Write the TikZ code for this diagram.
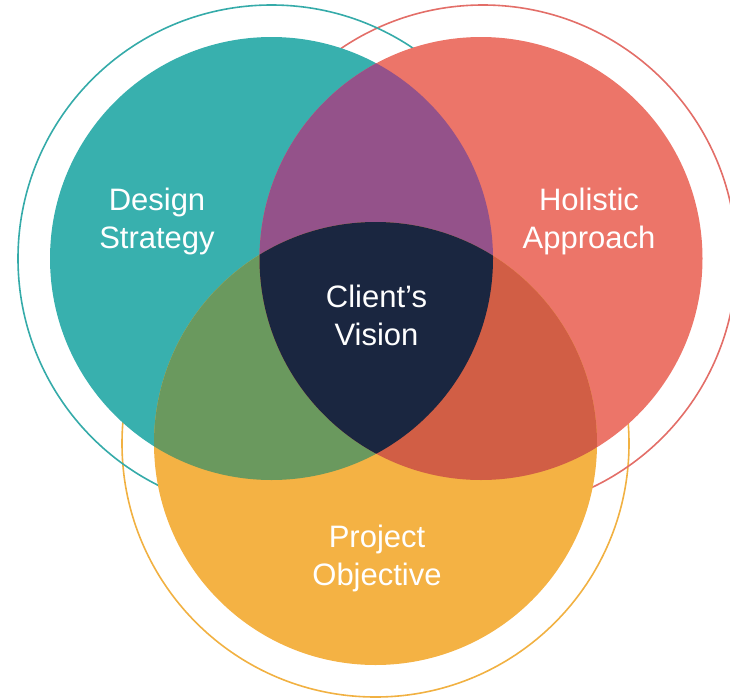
\documentclass[tikz,border=0pt]{standalone}
\usepackage{fontspec}
\setmainfont{Liberation Sans}
\definecolor{cteal}{HTML}{38B0AE}
\definecolor{cred}{HTML}{EC7569}
\definecolor{corange}{HTML}{F4B244}
\definecolor{cpurple}{HTML}{94528A}
\definecolor{cgreen}{HTML}{6A995E}
\definecolor{cdred}{HTML}{D15E45}
\definecolor{cnavy}{HTML}{1A2640}
\definecolor{rteal}{HTML}{35ABA9}
\definecolor{rred}{HTML}{E36E68}
\definecolor{rorange}{HTML}{F1B142}
\tikzset{
  ring/.style={line width=1.6pt},
  lbl/.style={text=white, align=center, inner sep=0pt,
    font=\fontsize{31}{38}\selectfont},
}
\begin{document}
\begin{tikzpicture}[x=1pt,y=-1pt]
\useasboundingbox (0,0) rectangle (730,699);
\coordinate (cT) at (271.5,258.5);
\coordinate (cR) at (481,258.5);
\coordinate (cO) at (375.5,443.5);
\def\R{221.5pt}
\def\RR{253.5pt}
% outer rings
\draw[ring, rorange] (cO) circle (\RR);
\draw[ring, rred] (483,258.5) coordinate (cRR) circle (\RR);
\draw[ring, rteal] (cT) circle (\RR);
% filled circles
\fill[cteal] (cT) circle (\R);
\fill[cred] (cR) circle (\R);
\fill[corange] (cO) circle (\R);
% pairwise overlaps
\begin{scope}
  \clip (cT) circle (\R);
  \fill[cpurple] (cR) circle (\R);
  \fill[cgreen] (cO) circle (\R);
\end{scope}
\begin{scope}
  \clip (cR) circle (\R);
  \fill[cdred] (cO) circle (\R);
\end{scope}
\begin{scope}
  \clip (cT) circle (\R);
  \clip (cR) circle (\R);
  \fill[cnavy] (cO) circle (\R);
\end{scope}
% labels
\node[lbl] (ds) at (157,221.3) {Design\\Strategy};
\node[lbl] (ha) at (589,221) {Holistic\\Approach};
\node[lbl] (cv) at (376.5,315.2) {Client’s\\Vision};
\node[lbl] (po) at (377,558) {Project\\Objective};
\end{tikzpicture}
\end{document}
